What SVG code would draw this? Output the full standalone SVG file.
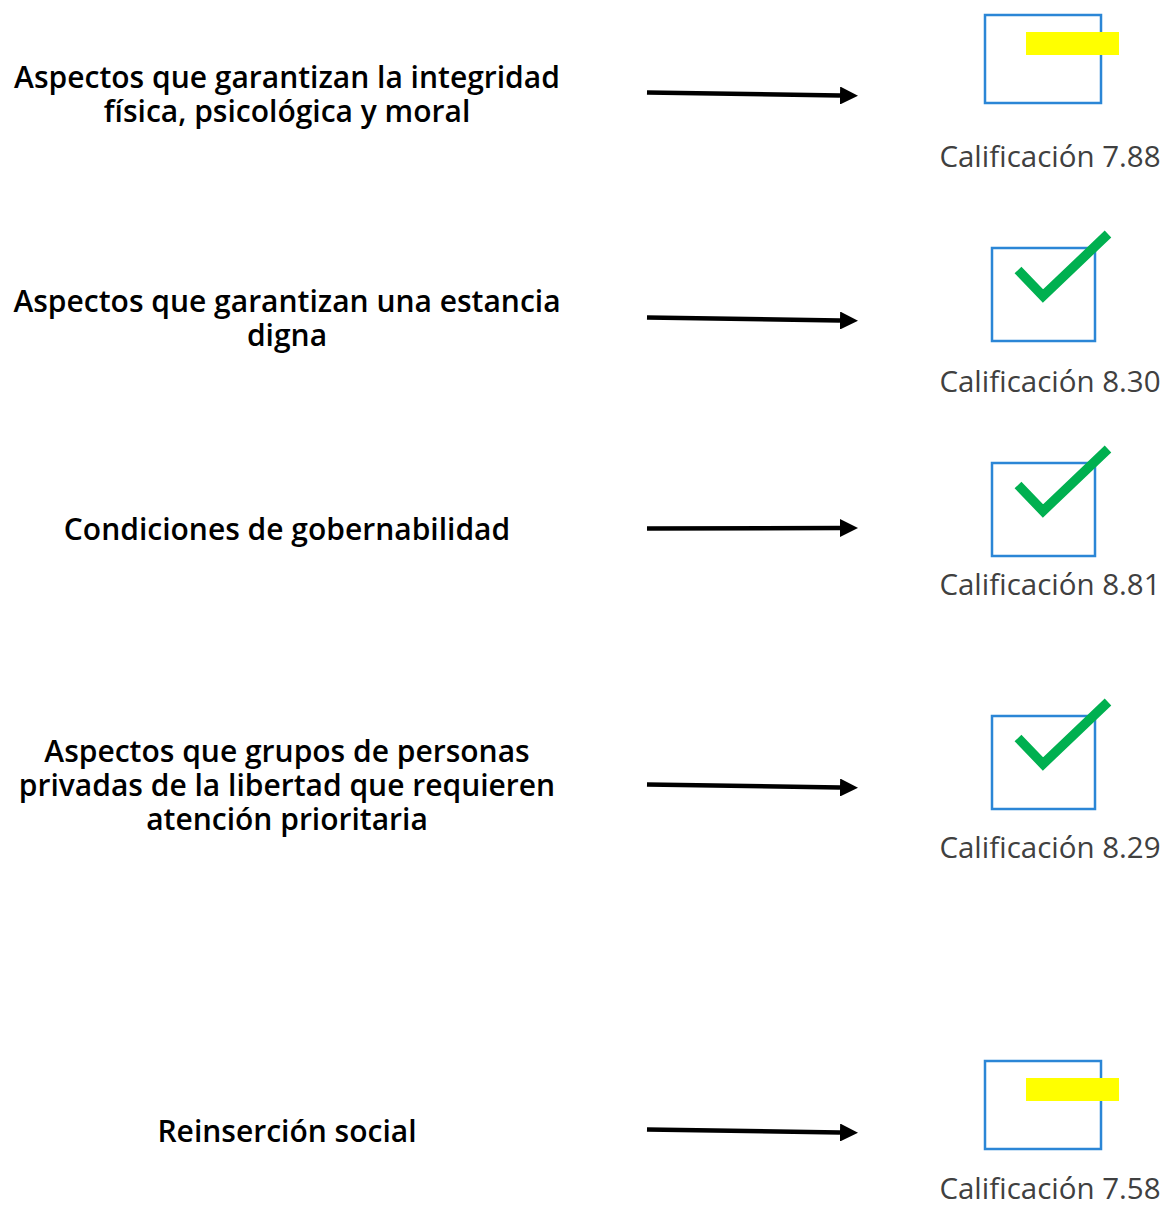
<svg xmlns="http://www.w3.org/2000/svg" width="1166" height="1205" viewBox="0 0 1166 1205">
<style>
.lbl{font-family:"Open Sans","Noto Sans",sans-serif;font-weight:600;font-size:30px;fill:#000;text-anchor:middle}
.score{font-family:"Open Sans","Noto Sans",sans-serif;font-weight:400;font-size:29.5px;fill:#404040;text-anchor:middle}
.box{fill:#fff;stroke:#2b86d6;stroke-width:2.5}
.bar{fill:#ffff00}
.chk{fill:none;stroke:#00b050;stroke-width:9.5;stroke-linecap:butt;stroke-linejoin:miter}
.arr{fill:none;stroke:#000;stroke-width:4.5}
</style>
<defs>
<marker id="ah" markerWidth="4" markerHeight="4" refX="0" refY="2" orient="auto" markerUnits="strokeWidth" viewBox="0 0 4 4">
<path d="M0,0 L4,2 L0,4 z" fill="#000"/>
</marker>
</defs>
<rect width="1166" height="1205" fill="#fff"/>
<g id="connectors">
<path class="arr" d="M647,92.5 L840,95.5" marker-end="url(#ah)"/>
<path class="arr" d="M647,317.5 L840,320.5" marker-end="url(#ah)"/>
<path class="arr" d="M647,528.5 L840,528" marker-end="url(#ah)"/>
<path class="arr" d="M647,784.5 L840,787.5" marker-end="url(#ah)"/>
<path class="arr" d="M647,1129.5 L840,1132.5" marker-end="url(#ah)"/>
</g>
<g id="n1">
<text class="lbl" x="287" y="88">Aspectos que garantizan la integridad</text>
<text class="lbl" x="287" y="122">física, psicológica y moral</text>
</g>
<g id="n2">
<text class="lbl" x="287" y="312">Aspectos que garantizan una estancia</text>
<text class="lbl" x="287" y="346">digna</text>
</g>
<g id="n3">
<text class="lbl" x="287" y="540">Condiciones de gobernabilidad</text>
</g>
<g id="n4">
<text class="lbl" x="287" y="762">Aspectos que grupos de personas</text>
<text class="lbl" x="287" y="796">privadas de la libertad que requieren</text>
<text class="lbl" x="287" y="830">atención prioritaria</text>
</g>
<g id="n5">
<text class="lbl" x="287" y="1142">Reinserción social</text>
</g>
<g id="r1">
<rect class="box" x="985" y="15" width="116" height="88"/>
<rect class="bar" x="1026" y="32" width="93" height="23"/>
<text class="score" x="1050" y="167">Calificación 7.88</text>
</g>
<g id="r2">
<rect class="box" x="992" y="248" width="103" height="93"/>
<path class="chk" d="M1018,270 L1043,296 L1108,234"/>
<text class="score" x="1050" y="392">Calificación 8.30</text>
</g>
<g id="r3">
<rect class="box" x="992" y="463" width="103" height="93"/>
<path class="chk" d="M1018,485 L1043,511 L1108,449"/>
<text class="score" x="1050" y="595">Calificación 8.81</text>
</g>
<g id="r4">
<rect class="box" x="992" y="716" width="103" height="93"/>
<path class="chk" d="M1018,738 L1043,764 L1108,702"/>
<text class="score" x="1050" y="858">Calificación 8.29</text>
</g>
<g id="r5">
<rect class="box" x="985" y="1061" width="116" height="88"/>
<rect class="bar" x="1026" y="1078" width="93" height="23"/>
<text class="score" x="1050" y="1199">Calificación 7.58</text>
</g>
</svg>
